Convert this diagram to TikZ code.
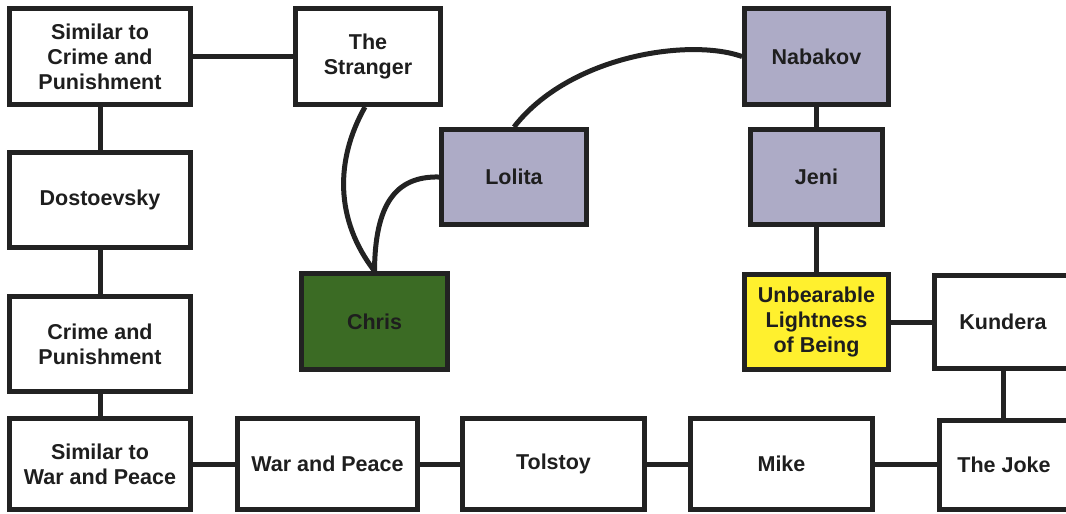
\documentclass[tikz,border=0pt]{standalone}
\usepackage{fontspec}
\setmainfont{Liberation Sans}
\definecolor{edge}{HTML}{222222}
\definecolor{lav}{HTML}{ADABC6}
\definecolor{grn}{HTML}{3B6B24}
\definecolor{yel}{HTML}{FFF02E}
\definecolor{ink}{HTML}{1E1E1E}
\begin{document}
\begin{tikzpicture}[x=1pt,y=-1pt,
  box/.style={draw=edge,line width=5pt,fill=white,align=center,inner sep=0pt,
    font=\fontsize{21.5}{25}\selectfont\bfseries,text=ink},
  link/.style={draw=edge,line width=5pt}]
\useasboundingbox (0,0) rectangle (1066,514);
\begin{scope}
\clip (0,0) rectangle (1066,514);
% connectors first
\coordinate (dummy) at (0,0);
% nodes
\node[box,minimum width=181pt,minimum height=96pt] (simcp) at (100,56.5) {Similar to\\Crime and\\Punishment};
\node[box,minimum width=145pt,minimum height=96pt] (stranger) at (368,56.5) {The\\Stranger};
\node[box,minimum width=181pt,minimum height=95pt] (dost) at (100,200) {Dostoevsky};
\node[box,minimum width=181pt,minimum height=95pt] (cp) at (100,344) {Crime and\\Punishment};
\node[box,minimum width=181pt,minimum height=91pt] (simwp) at (100,464) {Similar to\\War and Peace};
\node[box,minimum width=180pt,minimum height=91pt] (wp) at (327.5,464) {War and Peace};
\node[box,minimum width=182pt,minimum height=91pt] (tolstoy) at (553.5,464) {Tolstoy};
\node[box,minimum width=182pt,minimum height=91pt] (mike) at (781.5,464) {Mike};
\node[box,minimum width=129pt,minimum height=89pt] (joke) at (1004,465) {The Joke};
\node[box,minimum width=137pt,minimum height=93pt] (kundera) at (1003,322) {Kundera};
\node[box,fill=yel,minimum width=144pt,minimum height=95pt] (unbear) at (816.5,322) {Unbearable\\Lightness\\of Being};
\node[box,fill=lav,minimum width=132pt,minimum height=95pt] (jeni) at (816.5,177) {Jeni};
\node[box,fill=lav,minimum width=144pt,minimum height=96pt] (nabakov) at (816.5,56.5) {Nabakov};
\node[box,fill=lav,minimum width=145pt,minimum height=95pt] (lolita) at (514,177) {Lolita};
\node[box,fill=grn,minimum width=146pt,minimum height=96pt] (chris) at (374.5,321.5) {Chris};
% straight connectors
\path[link] (simcp) -- (stranger);
\path[link] (simcp) -- (dost);
\path[link] (dost) -- (cp);
\path[link] (cp) -- (simwp);
\path[link] (simwp) -- (wp);
\path[link] (wp) -- (tolstoy);
\path[link] (tolstoy) -- (mike);
\path[link] (mike.east) -- (mike.east -| joke.west);
\path[link] (kundera.south) -- (kundera.south |- joke.north);
\path[link] (unbear) -- (kundera.west |- unbear.east);
\path[link] (unbear) -- (jeni);
\path[link] (jeni) -- (nabakov);
% curved connectors
\path[link] ([xshift=-3pt]stranger.south) .. controls (335,160) and (335,220) .. (chris.north);
\path[link] (lolita.west) .. controls (395,176) and (375,205) .. (chris.north);
\path[link] (lolita.north) .. controls (570,55) and (690,38) .. (nabakov.west);
\end{scope}
\end{tikzpicture}
\end{document}
